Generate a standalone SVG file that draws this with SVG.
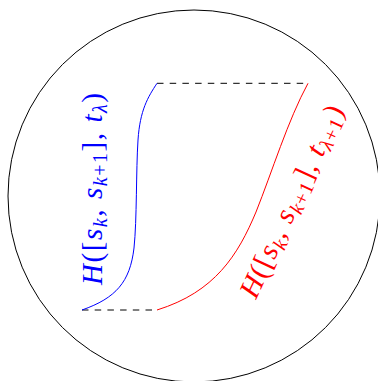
<svg xmlns="http://www.w3.org/2000/svg" width="378" height="381" viewBox="0 0 378 381">
<style>
.ln{fill:none;stroke-width:1}
.dash{fill:none;stroke:#000;stroke-width:1;stroke-dasharray:6.5 6.2}
.lbl{font-family:"Liberation Serif","DejaVu Serif",serif;font-size:29px}
.it{font-style:italic}
.sub{font-size:20px}
</style>
<rect width="378" height="381" fill="#fff"/>
<g id="circle"><circle cx="194" cy="196" r="186" class="ln" stroke="#000"/></g>
<g id="connectors">
<path class="dash" d="M157,83.3 H308"/>
<path class="dash" d="M82,310 H157"/>
<path class="ln" stroke="#0000ff" d="M82,310 C116,298 130,282 134,248 C137,220 136,170 138,140 C140,110 148,97 157,83.3"/>
<path class="ln" stroke="#ff0000" d="M157,310 C215,292 238,255 256,212 C272,172 288,120 308,83.3"/>
</g>
<g id="blue-label">
<text class="lbl" fill="#0000ff" transform="translate(102,285) rotate(-90)" textLength="192" lengthAdjust="spacing"><tspan class="it">H</tspan>([<tspan class="it">s</tspan><tspan class="it sub" dy="5">k</tspan><tspan dy="-5">, </tspan><tspan class="it">s</tspan><tspan class="it sub" dy="5">k</tspan><tspan class="sub">+1</tspan><tspan dy="-5">], </tspan><tspan class="it">t</tspan><tspan class="it sub" dy="5">λ</tspan><tspan dy="-5">)</tspan></text>
</g>
<g id="red-label">
<text class="lbl" fill="#ff0000" transform="translate(256,300) rotate(-65)" textLength="209" lengthAdjust="spacing"><tspan class="it">H</tspan>([<tspan class="it">s</tspan><tspan class="it sub" dy="5">k</tspan><tspan dy="-5">, </tspan><tspan class="it">s</tspan><tspan class="it sub" dy="5">k</tspan><tspan class="sub">+1</tspan><tspan dy="-5">], </tspan><tspan class="it">t</tspan><tspan class="it sub" dy="5">λ</tspan><tspan class="sub">+1</tspan><tspan dy="-5">)</tspan></text>
</g>
</svg>
